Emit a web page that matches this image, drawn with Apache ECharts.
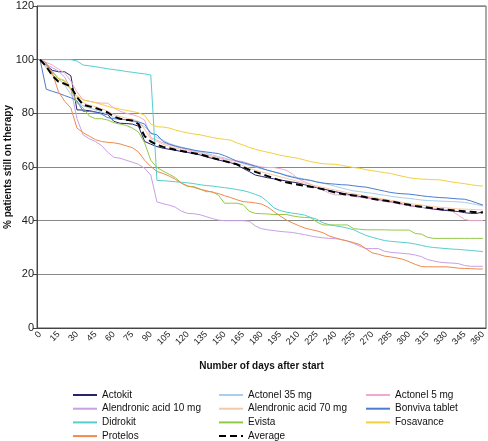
<!DOCTYPE html>
<html>
<head>
<meta charset="utf-8">
<script src="https://cdn.jsdelivr.net/npm/echarts@6/dist/echarts.min.js"></script>
<style>
html,body{margin:0;padding:0;background:#fff;}
#c{width:488px;height:441px;}
</style>
</head>
<body>
<div id="c"></div>
<script>
// Days after start (every 5 days)
const days = [];
for (let d = 0; d <= 360; d += 5) days.push(String(d));

const yTicks = [0, 20, 40, 60, 80, 100, 120];

const seriesNames = ["Actokit", "Actonel 35 mg", "Actonel 5 mg", "Alendronic acid 10 mg", "Alendronic acid 70 mg", "Bonviva tablet", "Didrokit", "Evista", "Fosavance", "Protelos", "Average"];

const actokit = [100,98,96,95.5,95.5,94,81.3,81.2,81,80.5,80,79.5,77,76.3,76.2,76,75.2,69.5,68.5,67.6,67,66.6,66.2,65.8,65.4,65,64.5,63.8,63.2,62.6,62.1,61.6,60.8,59.5,58.3,57,56.5,56,55.6,55.2,54.8,54.4,54,53.4,52.8,52.3,51.8,51.3,50.8,50.3,49.9,49.4,49,48.6,48.2,47.8,47.4,47,46.6,46.1,45.6,45.3,45,44.6,44.3,44,43.8,43.6,43.4,43,42.7,42.7,43.3];

const actonel35 = [100,97.5,95.5,93,90.5,87,84,82.8,82,81.3,80.5,79.6,78.5,78,77.5,77,76.4,75,73,71,70,68.8,68,67.4,66.8,66.2,65.7,65.1,64.5,63.9,63.3,62.6,62,61.3,60.6,60,59.4,58.8,58.2,57.6,57,56.5,56,55.5,55,54.5,54,53.4,52.8,52.2,51.6,51.1,50.8,50.5,50.2,49.8,49.5,49.1,48.8,48.5,48.3,48,47.7,47.5,47.4,47.3,47.2,47.1,47,46.8,46.4,46,45.5];

const actonel5 = [100,99,98,96.5,95,92,88,85,84.5,84,83.8,83.8,82,80.8,80,79.5,78.8,77.5,71,70,69,68.3,67.6,67,66.4,65.8,65.2,64.6,64,63.5,63,62.6,62.3,62,61.2,60.5,60,59.8,59.8,59.4,58.8,57.5,55.5,54.5,53.5,52.5,51.4,50.3,49.6,49.6,49.5,49,48.7,48.4,48,47.6,47.2,46.8,46.4,46,45.6,45.3,45,44.8,44.6,44.4,44.2,43.5,42,40.5,40,40,40];

const alendronic10 = [100,98.2,97,95.7,93.5,89,78,72,70.5,69.5,68,65.5,63.6,63.3,62.5,61.8,61,59.5,57,47,46.3,45.8,45,43.5,42.7,42.6,42.2,41.5,40.8,40.2,40,40,40,40,39.8,38,37,36.6,36.3,36,35.8,35.6,35.2,34.8,34.3,33.9,33.6,33.4,33.3,33,32.4,31.5,30.5,29.6,29.6,29.6,28.6,28.2,28,27.8,27.6,27.2,26.6,25.5,25,24.5,24.3,24.2,24,23.3,23,23,23];

const alendronic70 = [100,97,94.5,92.5,91,89,86,84,83,82.5,81.7,80.8,79.5,78.8,78.2,77.8,77,74,70.5,69.5,68.5,67.8,67,66.5,66,65.5,65,64.4,63.8,63.2,62.6,62,61.3,60.5,59.5,58.8,58.2,57.6,57,56.4,55.8,55.2,54.6,54,53.4,52.9,52.4,51.9,51.4,50.9,50.4,50,49.6,49.2,48.8,48.4,48,47.6,47.2,46.8,46.4,46.1,45.8,45.5,45.2,45,44.8,44.6,44.4,44.3,44.2,44.1,44];

const bonviva = [100,89,88.2,87.5,86.6,85.8,84.7,80.7,80.7,80.5,79.7,78.4,78,77.8,77.6,77.2,76.8,76,72.5,72,69.5,68.5,67.8,67.2,66.8,66.3,65.9,65.6,65.3,65,64.2,63.2,62.2,61.6,61,60.3,59.5,58.8,58.2,57.6,56.8,56.2,55.7,55.3,55,54.4,54,53.8,53.6,53.4,53.3,53,52.7,52.5,52,51.5,51,50.5,50.2,50,49.9,49.6,49.3,49,48.8,48.6,48.5,48.3,48.1,48,47.4,46.6,45.8];

const didrokit = [100,100,100,100,100,100,99.5,98,97.7,97.4,97,96.6,96.3,96,95.6,95.3,95,94.7,94.3,55,54.9,54.7,54.5,54.3,54.1,53.8,53.4,53.1,52.9,52.6,52.3,52,51.6,51.2,50.6,49.8,48.9,47,44.8,43.8,43.2,42.8,42.5,42.1,41.2,40.5,39.2,38.5,38.1,37.7,37.2,36.6,35.5,34.5,33.8,33.2,32.6,32.3,32.1,31.9,31.7,31.3,30.8,30.3,30,29.8,29.6,29.4,29.3,29.1,28.9,28.7,28.5];

const evista = [100,98,95.5,93,92,89,84,82,79,78,78,77.5,76.5,76,75.5,74.5,73,69,62.5,59.8,58.5,57.3,56,54,52.7,52.7,51.8,50.8,50.8,49.5,46.5,46.5,46.5,46,43.5,42.7,42.6,42.5,42.3,42.3,42.3,41.8,41.4,41.2,41.1,39.5,38.4,38.4,38.4,38.4,38.4,37,36.8,36.6,36.6,36.6,36.6,36.5,36.5,36.5,36.5,35.2,35,33.8,33.4,33.4,33.4,33.4,33.4,33.4,33.4,33.4,33.4];

const fosavance = [100,97,94,93,92.3,89,86.5,85,84.5,84,83.3,82.6,82,81.6,81.1,80.7,80.2,79.3,76,75,74.9,74.5,73.8,73.2,72.7,72.3,72,71.5,71,70.6,70.3,70,69,68.2,67.3,66.6,66,65.5,65,64.4,64,63.6,63.2,62.6,62,61.6,61.2,61.1,61,60.6,60.2,59.8,59.5,59,58.6,58.3,57.9,57.6,57,56.5,56,55.7,55.5,55.4,55.3,55.2,54.8,54.4,54.1,53.8,53.4,53.1,52.9];

const protelos = [100,98.8,95,88,84.5,82,74.5,72.8,71.5,70.2,69.5,69.2,69,68.6,67.9,67.2,65.6,62.5,60.2,58.3,57.6,56.6,55.4,53.9,53,52.4,51.7,51.2,50.6,50.1,49.3,48.6,47.8,47.1,46.9,46.6,46.2,45.1,43.4,41.8,40.3,39.2,38.2,37.3,36.7,36.2,35.5,34.3,33.6,32.9,32.4,31.8,31.1,29.5,28,27.5,26.8,26.5,26.1,25.6,24.7,23.7,22.9,22.8,22.8,22.8,22.8,22.6,22.3,22.2,22.1,22,22];

const average = [100,97.5,94,91.8,91,90,86,83.2,82.6,82,81.2,80.3,78.8,78,77.6,77.3,76,71.5,69.5,68.3,67.5,67,66.4,66,65.5,65.1,64.7,64.1,63.4,62.8,62.2,61.6,61,60,59,58.2,57.4,56.6,55.8,55,54.3,53.8,53.4,53,52.6,52.2,51.7,51.1,50.5,50,49.6,49.4,49.2,48.7,48.2,47.8,47.5,47.2,46.8,46.3,45.9,45.5,45.2,44.9,44.6,44.3,44.1,43.9,43.7,43.5,43.3,43.1,43];

const seriesData = [actokit, actonel35, actonel5, alendronic10, alendronic70, bonviva, didrokit, evista, fosavance, protelos, average];
const seriesColors = ["#27246e", "#a9cdec", "#f3a9cf", "#c9a0e6", "#f7c9a3", "#4a7dd1", "#55cfd0", "#94c947", "#f3d03d", "#ef8a4e", "#000000"];

const FONT = "'Liberation Sans', Arial, sans-serif";

const series = seriesNames.map((n, i) => ({
  name: n,
  type: 'line',
  data: seriesData[i],
  symbol: 'none',
  animation: false,
  z: n === 'Average' ? 10 : 2,
  lineStyle: n === 'Average'
    ? { color: '#000', width: 2, type: [7, 4] }
    : { color: seriesColors[i], width: 1 },
  itemStyle: { color: seriesColors[i] }
}));

const legendCols = [
  ["Actokit", "Alendronic acid 10 mg", "Didrokit", "Protelos"],
  ["Actonel 35 mg", "Alendronic acid 70 mg", "Evista", "Average"],
  ["Actonel 5 mg", "Bonviva tablet", "Fosavance"]
];
const legendLeft = [72, 218, 365];

const legends = legendCols.map((col, i) => ({
  data: col,
  orient: 'vertical',
  left: legendLeft[i],
  top: 390,
  height: 70,
  padding: 0,
  itemWidth: 24,
  itemHeight: 10,
  itemGap: 3.7,
  selectedMode: false,
  itemStyle: { opacity: 0 },
  textStyle: { fontFamily: FONT, fontSize: 10, color: '#111' }
}));

const chart = echarts.init(document.getElementById('c'), null, { renderer: 'canvas' });
chart.setOption({
  animation: false,
  backgroundColor: '#fff',
  grid: {
    left: 37, right: 2, top: 6, bottom: 113,
    containLabel: false,
    outerBoundsMode: 'none',
    show: true, borderColor: '#555', borderWidth: 1, backgroundColor: 'transparent'
  },
  legend: legends,
  xAxis: {
    type: 'category',
    data: days,
    boundaryGap: true,
    name: 'Number of days after start',
    nameLocation: 'middle',
    nameGap: 33,
    nameMoveOverlap: false,
    nameTextStyle: { fontFamily: FONT, fontSize: 10, fontWeight: 'bold', color: '#111' },
    axisLine: { lineStyle: { color: '#444', width: 1 } },
    axisTick: { interval: 0, length: 3, lineStyle: { color: '#444' } },
    axisLabel: { interval: 2, rotate: 45, fontFamily: FONT, fontSize: 9, color: '#222', margin: 5 },
    splitLine: { show: false }
  },
  yAxis: {
    type: 'value',
    min: 0, max: 120, interval: 20,
    name: '% patients still on therapy',
    nameLocation: 'middle',
    nameGap: 24,
    nameMoveOverlap: false,
    nameTextStyle: { fontFamily: FONT, fontSize: 10, fontWeight: 'bold', color: '#111' },
    axisLine: { show: true, lineStyle: { color: '#444', width: 1 } },
    axisTick: { show: true, length: 4, lineStyle: { color: '#444' } },
    axisLabel: { fontFamily: FONT, fontSize: 11, color: '#222', margin: 3,
      formatter: v => yTicks.includes(v) ? String(v) : '' },
    splitLine: { lineStyle: { color: '#888', width: 1 } }
  },
  series: series
});
</script>
</body>
</html>
